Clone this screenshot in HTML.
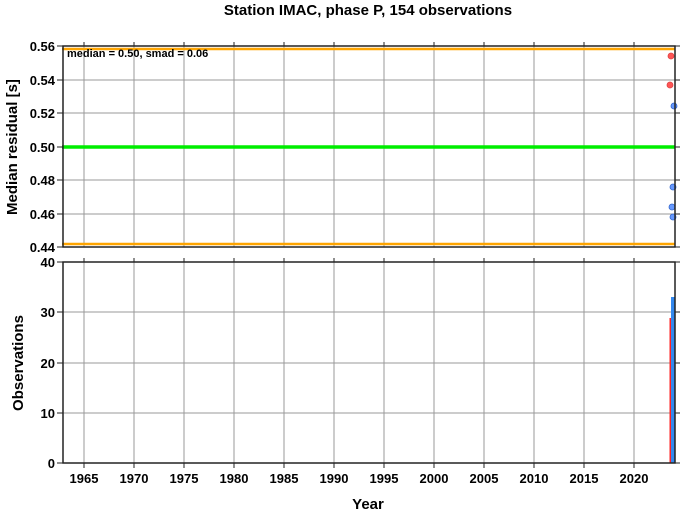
<!DOCTYPE html>
<html><head><style>body{margin:0;background:#fff}svg{display:block}text{font-family:"Liberation Sans",sans-serif;font-weight:bold;fill:#000}</style></head><body>
<svg width="681" height="511" xmlns="http://www.w3.org/2000/svg">
<text x="368" y="15" font-size="15" text-anchor="middle">Station IMAC, phase P, 154 observations</text>
<g stroke="#999" stroke-width="1">
<line x1="84" y1="46" x2="84" y2="247"/><line x1="134" y1="46" x2="134" y2="247"/><line x1="184" y1="46" x2="184" y2="247"/><line x1="234" y1="46" x2="234" y2="247"/><line x1="284" y1="46" x2="284" y2="247"/><line x1="334" y1="46" x2="334" y2="247"/><line x1="384" y1="46" x2="384" y2="247"/><line x1="434" y1="46" x2="434" y2="247"/><line x1="484" y1="46" x2="484" y2="247"/><line x1="534" y1="46" x2="534" y2="247"/><line x1="584" y1="46" x2="584" y2="247"/><line x1="634" y1="46" x2="634" y2="247"/>
<line x1="62" y1="80" x2="675" y2="80"/><line x1="62" y1="113" x2="675" y2="113"/><line x1="62" y1="180" x2="675" y2="180"/><line x1="62" y1="214" x2="675" y2="214"/>
<line x1="84" y1="262" x2="84" y2="463"/><line x1="134" y1="262" x2="134" y2="463"/><line x1="184" y1="262" x2="184" y2="463"/><line x1="234" y1="262" x2="234" y2="463"/><line x1="284" y1="262" x2="284" y2="463"/><line x1="334" y1="262" x2="334" y2="463"/><line x1="384" y1="262" x2="384" y2="463"/><line x1="434" y1="262" x2="434" y2="463"/><line x1="484" y1="262" x2="484" y2="463"/><line x1="534" y1="262" x2="534" y2="463"/><line x1="584" y1="262" x2="584" y2="463"/><line x1="634" y1="262" x2="634" y2="463"/>
<line x1="62" y1="312" x2="675" y2="312"/><line x1="62" y1="363" x2="675" y2="363"/><line x1="62" y1="413" x2="675" y2="413"/>
</g>
<line x1="62" y1="49" x2="675" y2="49" stroke="#ffa500" stroke-width="2.5"/>
<line x1="62" y1="244" x2="675" y2="244" stroke="#ffa500" stroke-width="2.5"/>
<line x1="62" y1="147" x2="675" y2="147" stroke="#00ee00" stroke-width="3.5"/>
<text x="67" y="57" font-size="11">median = 0.50, smad = 0.06</text>
<g stroke-width="0.8">
<circle cx="671" cy="56" r="3" fill="#ff5555" stroke="#d44"/>
<circle cx="670" cy="85" r="3" fill="#ff5555" stroke="#d44"/>
<circle cx="674" cy="106" r="3" fill="#6699ff" stroke="#36c"/>
<circle cx="673" cy="187" r="3" fill="#6699ff" stroke="#36c"/>
<circle cx="672" cy="207" r="3" fill="#6699ff" stroke="#36c"/>
<circle cx="673" cy="217" r="3" fill="#6699ff" stroke="#36c"/>
</g>
<rect x="669.5" y="318" width="1.5" height="145" fill="#ff2020"/>
<rect x="671" y="297" width="4" height="166" fill="#3388ee"/>
<g fill="none" stroke="#222" stroke-width="1.5">
<rect x="63" y="46" width="612" height="201"/>
<rect x="63" y="262" width="612" height="201"/>
</g>
<g stroke="#222" stroke-width="1">
<path d="M57 46h6M57 80h6M57 113h6M57 147h6M57 180h6M57 214h6M57 247h6M675 46h5M675 80h5M675 113h5M675 147h5M675 180h5M675 214h5M675 247h5"/>
<path d="M57 262h6M57 312h6M57 363h6M57 413h6M57 463h6M675 262h5M675 312h5M675 363h5M675 413h5M675 463h5"/>
<path d="M84 42v4M134 42v4M184 42v4M234 42v4M284 42v4M334 42v4M384 42v4M434 42v4M484 42v4M534 42v4M584 42v4M634 42v4"/>
<path d="M84 258v4M134 258v4M184 258v4M234 258v4M284 258v4M334 258v4M384 258v4M434 258v4M484 258v4M534 258v4M584 258v4M634 258v4"/>
<path d="M84 463v5M134 463v5M184 463v5M234 463v5M284 463v5M334 463v5M384 463v5M434 463v5M484 463v5M534 463v5M584 463v5M634 463v5"/>
</g>
<g font-size="13" text-anchor="end">
<text x="55" y="51">0.56</text><text x="55" y="85">0.54</text><text x="55" y="118">0.52</text><text x="55" y="152">0.50</text><text x="55" y="185">0.48</text><text x="55" y="219">0.46</text><text x="55" y="252">0.44</text>
<text x="55" y="267">40</text><text x="55" y="317">30</text><text x="55" y="368">20</text><text x="55" y="418">10</text><text x="55" y="468">0</text>
</g>
<g font-size="13" text-anchor="middle">
<text x="84" y="483">1965</text><text x="134" y="483">1970</text><text x="184" y="483">1975</text><text x="234" y="483">1980</text><text x="284" y="483">1985</text><text x="334" y="483">1990</text><text x="384" y="483">1995</text><text x="434" y="483">2000</text><text x="484" y="483">2005</text><text x="534" y="483">2010</text><text x="584" y="483">2015</text><text x="634" y="483">2020</text>
</g>
<text x="368" y="509" font-size="15" text-anchor="middle">Year</text>
<text transform="translate(17,147) rotate(-90)" font-size="15" text-anchor="middle">Median residual [s]</text>
<text transform="translate(23,363) rotate(-90)" font-size="15" text-anchor="middle">Observations</text>
</svg>
</body></html>
